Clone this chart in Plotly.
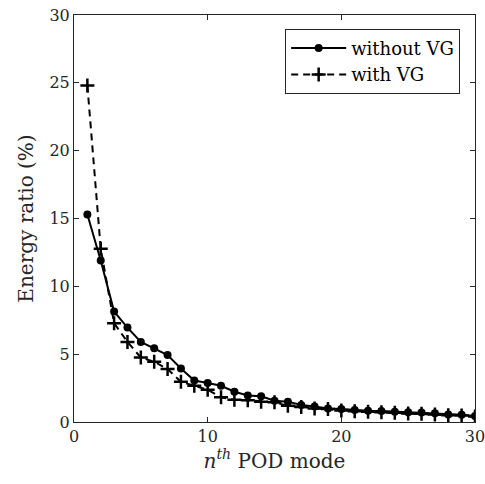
import plotly.graph_objects as go

modes = list(range(1, 31))
without_vg = [15.3, 11.9, 8.14, 6.96, 5.9, 5.44, 4.93, 3.95, 3.06, 2.87,
              2.67, 2.23, 1.95, 1.9, 1.57, 1.5, 1.25, 1.15, 1.0, 0.96,
              0.88, 0.83, 0.81, 0.76, 0.71, 0.7, 0.64, 0.56, 0.54, 0.44]
with_vg = [24.8, 12.77, 7.28, 5.9, 4.75, 4.44, 3.9, 2.96, 2.67, 2.38,
           1.82, 1.64, 1.6, 1.5, 1.45, 1.2, 1.1, 1.0, 0.95, 0.85,
           0.8, 0.75, 0.72, 0.68, 0.63, 0.6, 0.55, 0.5, 0.47, 0.4]
x_ticks = [0, 10, 20, 30]
y_ticks = [0, 5, 10, 15, 20, 25, 30]

font = "DejaVu Serif, Liberation Serif, serif"

fig = go.Figure()
fig.add_trace(go.Scatter(
    x=modes, y=without_vg, mode="lines+markers", name="without VG",
    line=dict(color="black", width=2),
    marker=dict(symbol="circle", size=8, color="black"),
))
fig.add_trace(go.Scatter(
    x=modes, y=with_vg, mode="lines+markers", name="with VG",
    line=dict(color="black", width=2, dash="7px,5px"),
    marker=dict(symbol="cross-thin", size=10, color="black",
                line=dict(color="black", width=2.5)),
))

axis_common = dict(
    showgrid=False, zeroline=False, showline=True, linecolor="#262626",
    linewidth=1, mirror="ticks", ticks="inside", ticklen=5,
    tickcolor="#262626", ticklabeloverflow="allow", automargin=False,
    tickfont=dict(family=font, size=16, color="#262626"),
)
fig.update_xaxes(range=[0, 30], tickvals=x_ticks,
                 title=dict(text="<i>n</i><sup><i>th</i></sup> POD mode",
                            font=dict(family=font, size=20, color="#262626"),
                            standoff=2),
                 **axis_common)
fig.update_yaxes(range=[0, 30], tickvals=y_ticks,
                 title=dict(text="Energy ratio (%)",
                            font=dict(family=font, size=20, color="#262626"),
                            standoff=10),
                 **axis_common)

fig.update_layout(
    width=485, height=484,
    margin=dict(l=74, r=10, t=15, b=62, autoexpand=False),
    plot_bgcolor="white", paper_bgcolor="white",
    font=dict(family=font, color="#262626"),
    legend=dict(x=0.963, y=0.966, xanchor="right", yanchor="top",
                bordercolor="#262626", borderwidth=1, bgcolor="white",
                font=dict(family=font, size=18, color="black"),
                tracegroupgap=0, itemwidth=55),
)

fig.write_html("out.html")
